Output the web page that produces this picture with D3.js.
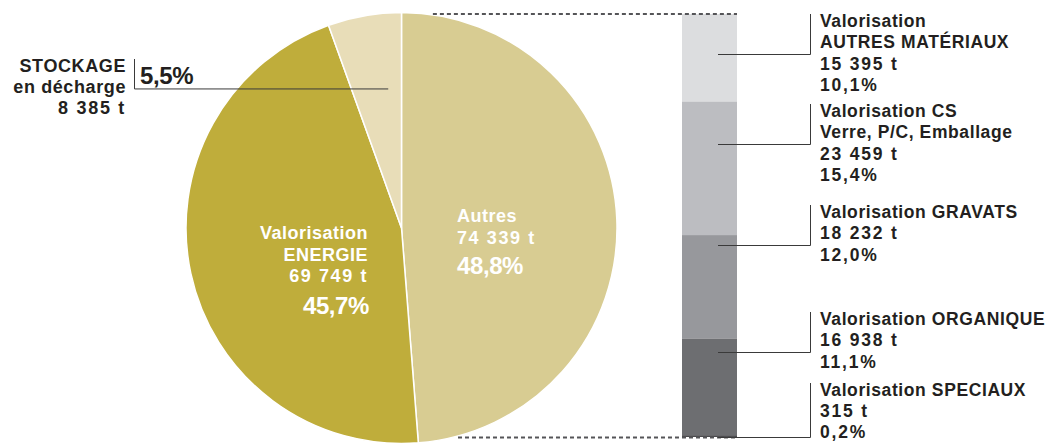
<!DOCTYPE html>
<html>
<head>
<meta charset="utf-8">
<script src="https://cdn.jsdelivr.net/npm/d3@7"></script>
<style>
  body { margin: 0; background: #fff; }
  svg { display: block; font-family: "Liberation Sans", Arial, Helvetica, sans-serif; }
</style>
</head>
<body>
<div id="chart"></div>
<script>
// pie: Autres / Valorisation ENERGIE / STOCKAGE en décharge
const pieNames = [["Autres"], ["Valorisation", "ENERGIE"], ["STOCKAGE", "en décharge"]];
const pieTonnes = [74339, 69749, 8385];
const piePercents = ["48,8%", "45,7%", "5,5%"];

// bar: breakdown of "Autres"
const barNames = [
  ["Valorisation", "AUTRES MATÉRIAUX"],
  ["Valorisation CS", "Verre, P/C, Emballage"],
  ["Valorisation GRAVATS"],
  ["Valorisation ORGANIQUE"],
  ["Valorisation SPECIAUX"]
];
const barTonnes = [15395, 23459, 18232, 16938, 315];
const barPercents = ["10,1%", "15,4%", "12,0%", "11,1%", "0,2%"];

const W = 1052, H = 443;
const ink = "#231f20";
const pieColors = ["#d8cc92", "#bfad3b", "#e8ddb8"];
const barColors = ["#dcdddf", "#bcbdc1", "#97989c", "#6d6e71", "#4a4a4d"];

const fr = d3.formatLocale({ decimal: ",", thousands: "\u00a0", grouping: [3], currency: ["", " €"] });
const tons = v => fr.format(",")(v) + " t";

const svg = d3.select("#chart").append("svg").attr("width", W).attr("height", H);

// ---- pie
const cx = 401.5, cy = 228, R = 215.5;
const arcs = d3.pie().sort(null).value(d => d)(pieTonnes);
const arc = d3.arc().innerRadius(0).outerRadius(R);
const gPie = svg.append("g").attr("transform", `translate(${cx},${cy})`);
gPie.selectAll("path").data(arcs).join("path")
  .attr("d", arc)
  .attr("fill", (d, i) => pieColors[i])
  .attr("stroke", "#fff")
  .attr("stroke-width", 1.5)
  .attr("stroke-linejoin", "round");

// ---- bar
const barX = 682, barW = 55, barTop = 14, barBottom = 437;
const barTotal = d3.sum(barTonnes);
const yBar = d3.scaleLinear().domain([0, barTotal]).range([barTop, barBottom]);
const cum = [0, ...d3.cumsum(barTonnes)];
const segs = barTonnes.map((v, i) => ({ i, y0: yBar(cum[i]), y1: yBar(cum[i + 1]) }));
svg.append("g").selectAll("rect").data(segs).join("rect")
  .attr("x", barX).attr("width", barW)
  .attr("y", d => d.y0).attr("height", d => d.y1 - d.y0)
  .attr("fill", d => barColors[d.i]);

// dashed connectors from pie edge to bar
function edgeX(y) { const dy = y - cy; return cx + Math.sqrt(Math.max(0, R * R - dy * dy)); }
[barTop, barBottom + 0.5].forEach(y => {
  svg.append("line")
    .attr("x1", edgeX(y) + 6).attr("x2", barX + barW)
    .attr("y1", y).attr("y2", y)
    .attr("stroke", "#555558").attr("stroke-width", 1.8)
    .attr("stroke-dasharray", "4,3");
});

// ---- text helpers
function lines(g, arr, x, y, opts) {
  const t = g.append("text")
    .attr("x", x).attr("y", y)
    .attr("text-anchor", opts.anchor || "start")
    .attr("fill", opts.fill || ink)
    .attr("font-weight", "bold")
    .attr("font-size", opts.size);
  arr.forEach((s, k) => {
    t.append("tspan").attr("x", x).attr("dy", k ? opts.lh : 0)
      .attr("letter-spacing", s.ls)
      .text(s.t);
  });
  return t;
}

// pie labels inside slices
const inner = [
  { x: 457, y: 222, anchor: "start", pctDy: 30 },
  { x: 368, y: 239, anchor: "end", pctDy: 32 }
];
inner.forEach((p, i) => {
  const rows = pieNames[i].map(t => ({ t, ls: 0.5 })).concat([{ t: tons(pieTonnes[i]), ls: 1.6 }]);
  lines(svg, rows, p.x, p.y, { anchor: p.anchor, size: 18, lh: 21.5, fill: "#fff" });
  const lastY = p.y + 21.5 * (rows.length - 1);
  svg.append("text")
    .attr("x", p.x + (p.anchor === "end" ? 1 : 0)).attr("y", lastY + p.pctDy)
    .attr("text-anchor", p.anchor).attr("fill", "#fff")
    .attr("font-size", 24).attr("font-weight", "bold").attr("letter-spacing", -0.4)
    .text(piePercents[i]);
});

// stockage label outside, left
{
  const s = arcs[2];
  const mid = (s.startAngle + s.endAngle) / 2;
  const px = cx + 0.655 * R * Math.sin(mid), py = cy - 0.655 * R * Math.cos(mid);
  const rows = pieNames[2].map(t => ({ t, ls: 0.6 })).concat([{ t: tons(pieTonnes[2]), ls: 1.7 }]);
  lines(svg, rows, 126, 72, { anchor: "end", size: 18, lh: 21 });
  svg.append("path")
    .attr("d", `M134.5,59V${py}H${px + 11}`)
    .attr("fill", "none").attr("stroke", "#3a3a3a").attr("stroke-width", 1);
  svg.append("text").attr("x", 140).attr("y", 83.5)
    .attr("fill", ink).attr("font-size", 24).attr("font-weight", "bold").attr("letter-spacing", -0.4)
    .text(piePercents[2]);
}

// bar labels on the right
const labelBase = [27, 117, 218, 325, 396];
const lx = 820, vx = 810.5, hx0 = barX + 36;
barNames.forEach((names, i) => {
  const rows = names.map(t => ({ t, ls: 0.6 }))
    .concat([{ t: tons(barTonnes[i]), ls: 1.8 }, { t: barPercents[i], ls: 1.8 }]);
  lines(svg, rows, lx, labelBase[i], { size: 17.5, lh: i === 4 ? 20.8 : 21.3 });
  const seg = segs[i];
  const hy = Math.round(Math.min(Math.max(labelBase[i] + 27, seg.y0 + 2), seg.y1)) + 0.5;
  svg.append("path")
    .attr("d", `M${hx0},${hy}H${vx}V${labelBase[i] - 13}`)
    .attr("fill", "none").attr("stroke", "#3a3a3a").attr("stroke-width", 1);
});
</script>
</body>
</html>
